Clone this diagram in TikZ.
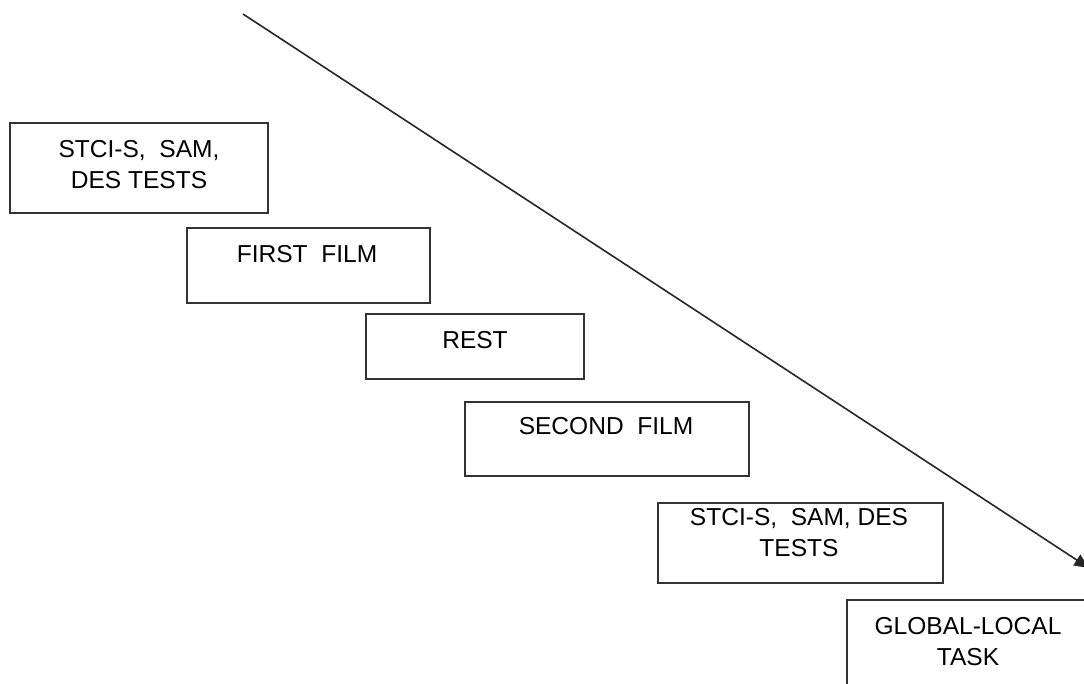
\documentclass[tikz,border=0pt]{standalone}
\usepackage{fontspec}
\setmainfont{Liberation Sans}
\usetikzlibrary{fit,arrows.meta}

\tikzset{
  stepbox/.style={draw=black!80, line width=1.4pt, fill=white, inner sep=0pt, rectangle},
  boxtext/.style={anchor=north, inner sep=0pt, align=center, text=black,
    font=\fontsize{18.4}{23}\selectfont},
  flow/.style={draw=black!85, line width=1.2pt, -{Triangle[length=11pt,width=9.5pt]}}
}

\begin{document}
\begin{tikzpicture}[x=0.75pt,y=-0.75pt]
  \useasboundingbox (0,0) rectangle (1084,684);
  \clip (0,0) rectangle (1084,684);

  % time arrow running down through the sequence
  \coordinate (tstart) at (243,14);
  \coordinate (tend) at (1089,568);
  \draw[flow] (tstart) -- (tend);

  % procedure steps
  \node[stepbox, fit={(10,123)(268,213)}] (b1) {};
  \node[boxtext] (t1) at (139,140) {STCI-S,\ \ SAM,\\DES TESTS};

  \node[stepbox, fit={(187,228)(430,303)}] (b2) {};
  \node[boxtext] (t2) at (307,245) {FIRST\ \ FILM};

  \node[stepbox, fit={(366,314)(584,379)}] (b3) {};
  \node[boxtext] (t3) at (475,331) {REST};

  \node[stepbox, fit={(465,402)(749,476)}] (b4) {};
  \node[boxtext] (t4) at (606,417) {SECOND\ \ FILM};

  \node[stepbox, fit={(658,503)(943,583)}] (b5) {};
  \node[boxtext] (t5) at (799,508) {STCI-S,\ \ SAM, DES\\TESTS};

  \node[stepbox, fit={(847,600)(1090,700)}] (b6) {};
  \node[boxtext] (t6) at (968,617) {GLOBAL-LOCAL\\TASK};
\end{tikzpicture}
\end{document}
